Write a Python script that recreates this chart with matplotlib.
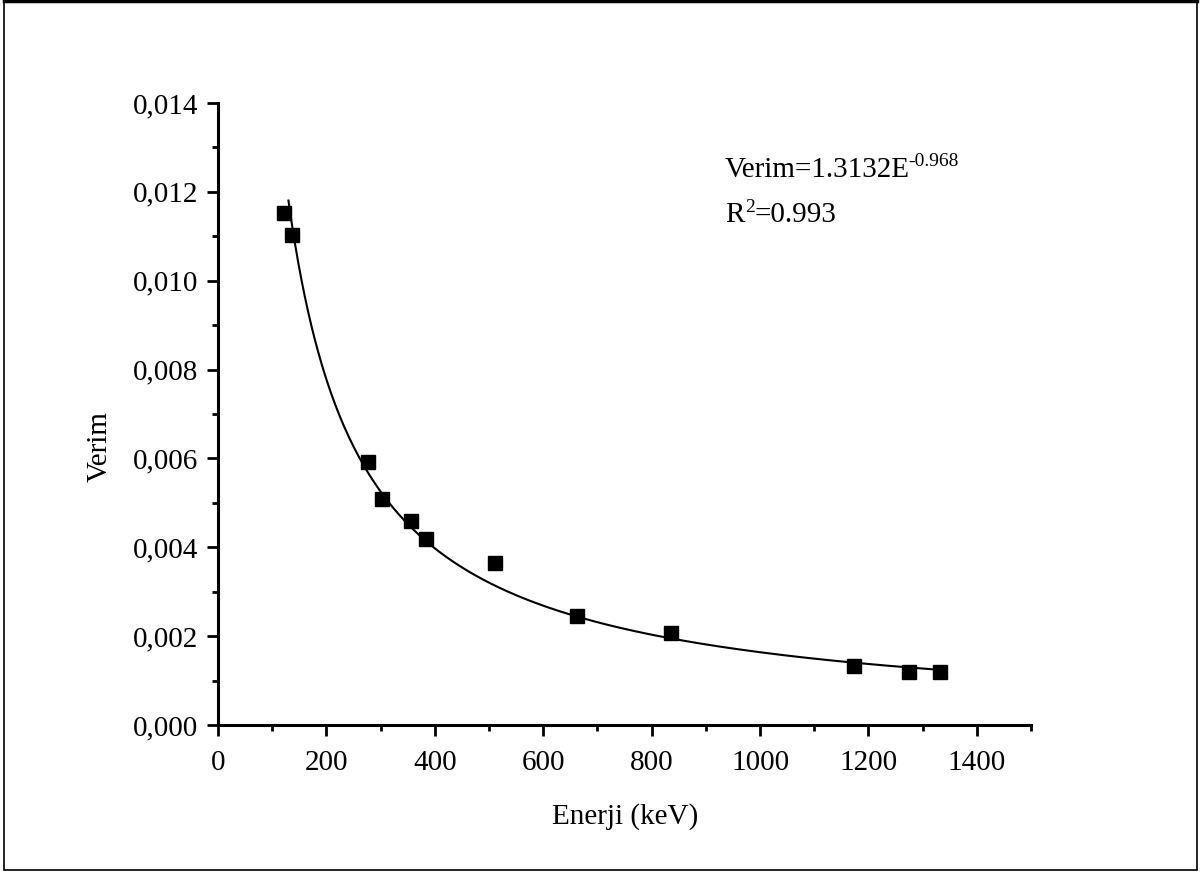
import numpy as np
import matplotlib.pyplot as plt
from matplotlib.ticker import MultipleLocator, FuncFormatter
from matplotlib.patches import Rectangle

# measured efficiency points
energy = [122, 136, 276, 302, 356, 383, 511, 662, 835, 1173, 1275, 1332]
efficiency = [0.01153, 0.01102, 0.00592, 0.00508, 0.00459, 0.00419,
              0.00365, 0.00245, 0.00206, 0.00133, 0.00119, 0.00119]

# power-law fit: Verim = a * E^b
fit_a = 1.3132
fit_b = -0.968
fit_r2 = 0.993
fit_range = (130, 1340)

plt.rcParams['font.family'] = ['Liberation Serif', 'DejaVu Serif']

W, H = 1203, 872
fig = plt.figure(figsize=(W / 100, H / 100), dpi=100)
ax = fig.add_axes([218 / W, 1 - 725 / H, (1031 - 218) / W, (725 - 103) / H])

e_fit = np.linspace(fit_range[0], fit_range[1], 400)
ax.plot(e_fit, fit_a * e_fit ** fit_b, color='black', lw=1.5, zorder=2)
ax.plot(energy, efficiency, 's', color='black', ms=9.5, zorder=3)

ax.set_xlim(0, 1500)
ax.set_ylim(0, 0.014)
ax.xaxis.set_major_locator(MultipleLocator(200))
ax.xaxis.set_minor_locator(MultipleLocator(100))
ax.yaxis.set_major_locator(MultipleLocator(0.002))
ax.yaxis.set_minor_locator(MultipleLocator(0.001))
ax.yaxis.set_major_formatter(FuncFormatter(lambda v, p: f'{v:.3f}'.replace('.', ',')))
ax.xaxis.set_major_formatter(FuncFormatter(lambda v, p: f'{v:.0f}'))

for side in ('top', 'right'):
    ax.spines[side].set_visible(False)
for side in ('left', 'bottom'):
    ax.spines[side].set_linewidth(2.2)
ax.tick_params(which='major', direction='out', length=8, width=2, labelsize=21)
ax.tick_params(axis='x', which='major', pad=10)
ax.tick_params(axis='y', which='major', pad=6)
ax.tick_params(which='minor', direction='out', length=4, width=2)

ax.set_xlabel('Enerji (keV)', fontsize=21)
ax.set_ylabel('Verim', fontsize=21)
ax.xaxis.set_label_coords((625 - 218) / 813, -(803 - 725) / 622)
ax.yaxis.set_label_coords((113 - 218) / 813, (725 - 447) / 622)

# fit equation, superscripts placed next to the main text
eq = ax.text(0.6236, 0.8815, 'Verim=1.3132E', transform=ax.transAxes,
             fontsize=21, ha='left', va='baseline')
ax.annotate(f'{fit_b}', xy=(1, 1), xycoords=eq, xytext=(-1, 3),
            textcoords='offset points', fontsize=14, ha='left', va='top')
r2 = ax.text(0.6236, 0.809, 'R', transform=ax.transAxes,
             fontsize=21, ha='left', va='baseline')
r2_sup = ax.annotate('2', xy=(1, 1), xycoords=r2, xytext=(0.5, 2),
                     textcoords='offset points', fontsize=14, ha='left', va='top')
ax.annotate(f'={fit_r2}', xy=(1, 0), xycoords=(r2_sup, r2), xytext=(0, 0),
            textcoords='offset points', fontsize=21, ha='left', va='bottom')

# outer frame around the whole figure
fig.patches.append(Rectangle((4 / W, 1 - 870 / H), (1197 - 4) / W, (870 - 1) / H,
                             transform=fig.transFigure, fill=False,
                             edgecolor='black', lw=1.2))
fig.add_artist(plt.Line2D([4 / W, 1197 / W], [1 - 1.5 / H, 1 - 1.5 / H],
                          transform=fig.transFigure, color='black', lw=2.5))

fig.savefig('out.png', dpi=100)
